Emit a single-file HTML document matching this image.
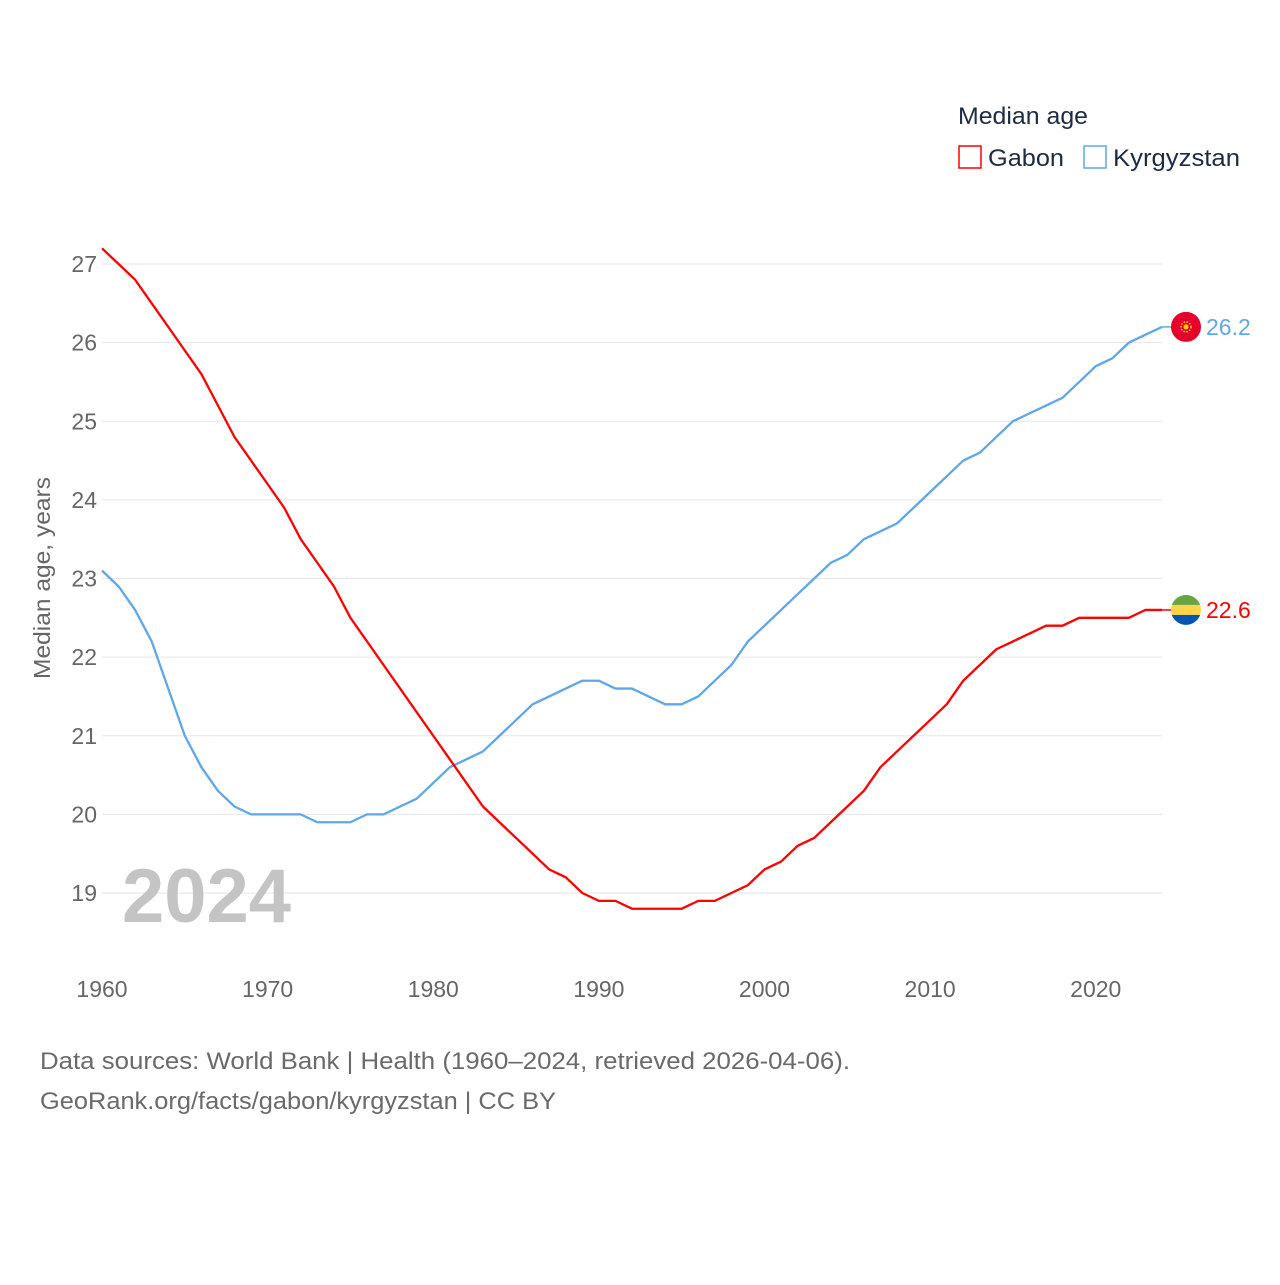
<!DOCTYPE html>
<html><head><meta charset="utf-8"><style>
body{margin:0;background:#fff;font-family:"Liberation Sans",sans-serif;}
svg text{font-family:"Liberation Sans",sans-serif;}
</style></head><body>
<svg id="chart" width="1280" height="1280" viewBox="0 0 1280 1280">
<g id="grid"></g>
<g id="yticks"></g>
<g id="xticks"></g>
<text transform="translate(50,578) rotate(-90)" text-anchor="middle" font-size="23" fill="#666" textLength="202" lengthAdjust="spacingAndGlyphs">Median age, years</text>
<text x="122" y="922" font-size="76" font-weight="bold" fill="#c4c4c4">2024</text>
<g id="lines"></g>
<g>
<text x="958" y="124" font-size="24" fill="#1d2b45" textLength="130" lengthAdjust="spacingAndGlyphs">Median age</text>
<g><rect x="959" y="146" width="22" height="22" fill="none" stroke="#ff0000" stroke-width="1.5"/><text x="988" y="166" font-size="24" fill="#1d2b45" textLength="76" lengthAdjust="spacingAndGlyphs">Gabon</text></g>
<g><rect x="1084" y="146" width="22" height="22" fill="none" stroke="#5ea7ea" stroke-width="1.5"/><text x="1113" y="166" font-size="24" fill="#1d2b45" textLength="127" lengthAdjust="spacingAndGlyphs">Kyrgyzstan</text></g>
</g>
<g id="ends"></g>
<text x="40" y="1069" font-size="24" fill="#6a6a6a" textLength="810" lengthAdjust="spacingAndGlyphs">Data sources: World Bank | Health (1960–2024, retrieved 2026-04-06).</text>
<text x="40" y="1109" font-size="24" fill="#6a6a6a" textLength="516" lengthAdjust="spacingAndGlyphs">GeoRank.org/facts/gabon/kyrgyzstan | CC BY</text>
</svg>
<script>
const years=[];for(let y=1960;y<=2024;y++)years.push(y);
const gabon=[27.2,27.0,26.8,26.5,26.2,25.9,25.6,25.2,24.8,24.5,24.2,23.9,23.5,23.2,22.9,22.5,22.2,21.9,21.6,21.3,21.0,20.7,20.4,20.1,19.9,19.7,19.5,19.3,19.2,19.0,18.9,18.9,18.8,18.8,18.8,18.8,18.9,18.9,19.0,19.1,19.3,19.4,19.6,19.7,19.9,20.1,20.3,20.6,20.8,21.0,21.2,21.4,21.7,21.9,22.1,22.2,22.3,22.4,22.4,22.5,22.5,22.5,22.5,22.6,22.6];
const kyrgyzstan=[23.1,22.9,22.6,22.2,21.6,21.0,20.6,20.3,20.1,20.0,20.0,20.0,20.0,19.9,19.9,19.9,20.0,20.0,20.1,20.2,20.4,20.6,20.7,20.8,21.0,21.2,21.4,21.5,21.6,21.7,21.7,21.6,21.6,21.5,21.4,21.4,21.5,21.7,21.9,22.2,22.4,22.6,22.8,23.0,23.2,23.3,23.5,23.6,23.7,23.9,24.1,24.3,24.5,24.6,24.8,25.0,25.1,25.2,25.3,25.5,25.7,25.8,26.0,26.1,26.2];
const yTicks=[19,20,21,22,23,24,25,26,27];
const xTicks=[1960,1970,1980,1990,2000,2010,2020];
const NS="http://www.w3.org/2000/svg";
const X=y=>102+(y-1960)*(1060/64);
const Y=v=>264+(27-v)*78.625;
function mk(t,a,p){const e=document.createElementNS(NS,t);for(const k in a)e.setAttribute(k,a[k]);p.appendChild(e);return e;}
const grid=document.getElementById('grid'),yt=document.getElementById('yticks'),xt=document.getElementById('xticks');
yTicks.forEach(v=>{
 const l=mk('line',{x1:102,x2:1162,y1:Y(v),y2:Y(v),stroke:'#e6e6e6','stroke-width':1},grid);
 
 
 const t=mk('text',{x:97,y:Y(v)+8,'text-anchor':'end','font-size':23,fill:'#666'},yt);t.textContent=v;
 
 
});
xTicks.forEach(v=>{
 const t=mk('text',{x:X(v),y:997,'text-anchor':'middle','font-size':23,fill:'#666'},xt);t.textContent=v;
 
 
});
const lines=document.getElementById('lines');
function line(d,c,n){
 const p=mk('polyline',{points:d.map((v,i)=>X(years[i])+','+Y(v)).join(' '),fill:'none',stroke:c,'stroke-width':2.3,'stroke-linejoin':'round'},lines);
 
 
}
line(kyrgyzstan,'#5ea7ea','kyrgyzstan-line');
line(gabon,'#ff0000','gabon-line');
const ends=document.getElementById('ends');
function endLabel(d,c,n,flag){
 const v=d[d.length-1],y=Y(v),x=X(years[years.length-1]);
 mk('line',{x1:x,x2:1172,y1:y,y2:y,stroke:c,'stroke-width':1.5},ends);
 const g=mk('g',{},ends);
 
 
 flag(g,1186,y);
 const t=mk('text',{x:1206,y:y+8,'font-size':23,fill:c},ends);t.textContent=v.toFixed(1);
 
 
}
endLabel(kyrgyzstan,'#5ea7ea','kyrgyzstan',(g,cx,cy)=>{
 mk('circle',{cx,cy,r:15,fill:'#e4002b'},g);
 mk('circle',{cx,cy,r:5,fill:'none',stroke:'#ffd700','stroke-width':1.5,'stroke-dasharray':'1.5 1.5'},g);
 mk('circle',{cx,cy,r:2.5,fill:'#ffd700'},g);
});
endLabel(gabon,'#ff0000','gabon',(g,cx,cy)=>{
 const cp=mk('clipPath',{id:'gc'},g);mk('circle',{cx,cy,r:15},cp);
 const h=mk('g',{'clip-path':'url(#gc)'},g);
 mk('rect',{x:cx-15,y:cy-15,width:30,height:10,fill:'#6aa342'},h);
 mk('rect',{x:cx-15,y:cy-5,width:30,height:10,fill:'#fcd548'},h);
 mk('rect',{x:cx-15,y:cy+5,width:30,height:10,fill:'#0056b3'},h);
});
</script>
</body></html>
